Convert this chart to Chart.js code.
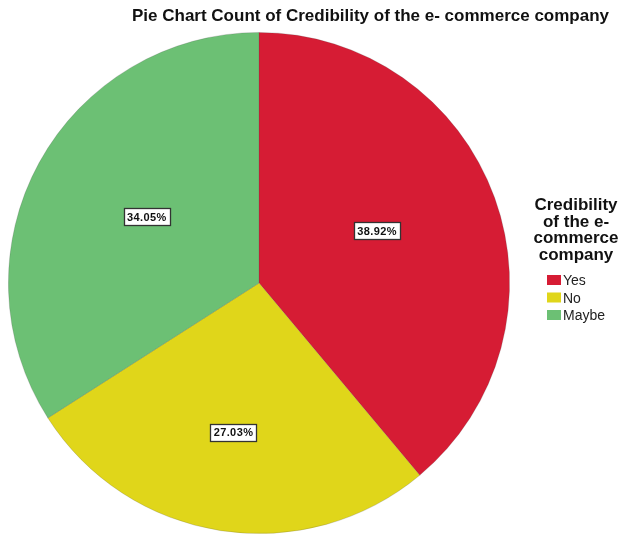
<!DOCTYPE html>
<html>
<head>
<meta charset="utf-8">
<script src="https://cdn.jsdelivr.net/npm/chart.js@4.4.1/dist/chart.umd.min.js"></script>
<style>
  html, body { margin: 0; padding: 0; background: #ffffff; }
  #wrap { width: 621px; height: 534px; position: relative; }
</style>
</head>
<body>
<div id="wrap"><canvas id="pie" width="621" height="534"></canvas></div>
<script>
// Share of respondents per answer
const categories = ['Yes', 'No', 'Maybe'];
const percentages = [38.92, 27.03, 34.05];
const sliceColors = ['#D61C34', '#E0D61A', '#6CC074'];
const chartTitle = 'Pie Chart Count of Credibility of the e- commerce company';
const legendTitleLines = ['Credibility', 'of the e-', 'commerce', 'company'];

// Placement of each boxed percentage label: fraction of the radius and
// a small angular nudge (degrees) away from the slice's middle
const labelRadius = [0.515, 0.605, 0.52];
const labelNudge = [-4, 1, 1.8];

const FONT = '"Liberation Sans", Arial, Helvetica, sans-serif';

const boxedLabels = {
  id: 'boxedLabels',
  afterDatasetsDraw(chart) {
    const ctx = chart.ctx;
    const meta = chart.getDatasetMeta(0);
    ctx.save();
    ctx.font = 'bold 11px ' + FONT;
    if ('letterSpacing' in ctx) ctx.letterSpacing = '0.4px';
    ctx.textAlign = 'center';
    ctx.textBaseline = 'middle';
    meta.data.forEach((arc, i) => {
      const p = arc.getProps(['x', 'y', 'startAngle', 'endAngle', 'outerRadius'], true);
      const mid = (p.startAngle + p.endAngle) / 2 + labelNudge[i] * Math.PI / 180;
      const r = p.outerRadius * labelRadius[i];
      const cx = p.x + Math.cos(mid) * r;
      const cy = p.y + Math.sin(mid) * r;
      const text = chart.data.datasets[0].data[i].toFixed(2) + '%';
      const w = Math.round(ctx.measureText(text).width + 6);
      const h = 17;
      const left = Math.round(cx - w / 2) + 0.5;
      const top = Math.round(cy - h / 2) + 0.5;
      ctx.fillStyle = '#ffffff';
      ctx.fillRect(left, top, w, h);
      ctx.strokeStyle = '#333333';
      ctx.lineWidth = 1.3;
      ctx.strokeRect(left, top, w, h);
      ctx.fillStyle = '#111111';
      ctx.fillText(text, cx + 0.2, cy + 1);
    });
    ctx.restore();
  }
};

const titleAndKey = {
  id: 'titleAndKey',
  afterDraw(chart) {
    const ctx = chart.ctx;
    ctx.save();
    ctx.fillStyle = '#111111';
    ctx.textBaseline = 'alphabetic';
    ctx.textAlign = 'center';
    ctx.font = 'bold 17px ' + FONT;
    ctx.fillText(chartTitle, 370.5, 21);

    // legend heading
    legendTitleLines.forEach((line, i) => {
      ctx.fillText(line, 576, 210 + i * 16.7);
    });

    // legend entries
    ctx.textAlign = 'left';
    ctx.font = '14px ' + FONT;
    categories.forEach((name, i) => {
      const top = 275 + i * 17.5;
      ctx.fillStyle = sliceColors[i];
      ctx.fillRect(547, top, 14, 10);
      ctx.fillStyle = '#222222';
      ctx.fillText(name, 563, top + 10);
    });
    ctx.restore();
  }
};

new Chart(document.getElementById('pie'), {
  type: 'pie',
  data: {
    labels: categories,
    datasets: [{
      data: percentages,
      backgroundColor: sliceColors,
      borderColor: 'rgba(70,70,70,0.25)',
      borderWidth: 0.8
    }]
  },
  options: {
    responsive: false,
    animation: false,
    layout: { padding: { left: 8, right: 111, top: 32, bottom: 0 } },
    plugins: {
      legend: { display: false },
      title: { display: false },
      tooltip: { enabled: false }
    }
  },
  plugins: [boxedLabels, titleAndKey]
});
</script>
</body>
</html>
